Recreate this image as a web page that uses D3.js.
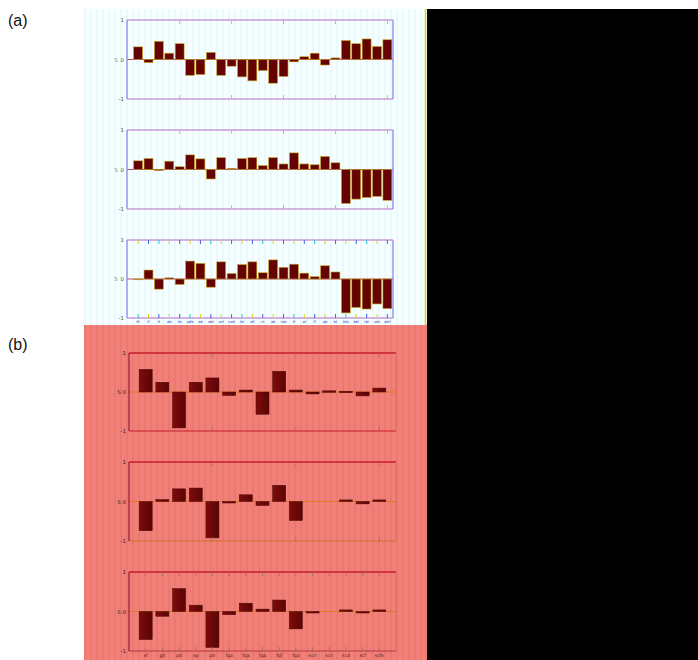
<!DOCTYPE html>
<html><head><meta charset="utf-8">
<script src="https://cdn.jsdelivr.net/npm/d3@7"></script>
<style>body{margin:0;background:#fff}svg{display:block}</style>
</head><body>
<script>
// ---------- data ----------
const catsA = ["fh","fl","fi","ab","tb","adb","ab","abf","acf","cab","fal","afl","ct","ab","tab","ff","af","fl","ab","bl","blb","bbl","tbl","abl","ablf"];
const a1 = [0.32,-0.08,0.46,0.16,0.40,-0.40,-0.38,0.18,-0.40,-0.17,-0.44,-0.54,-0.28,-0.60,-0.43,-0.06,0.07,0.16,-0.14,0.04,0.48,0.40,0.52,0.33,0.50];
const a2 = [0.22,0.28,-0.03,0.21,0.07,0.37,0.27,-0.24,0.30,0.03,0.28,0.30,0.10,0.30,0.14,0.42,0.14,0.12,0.33,0.17,-0.86,-0.75,-0.71,-0.68,-0.78];
const a3 = [-0.02,0.23,-0.26,0.03,-0.14,0.46,0.40,-0.21,0.44,0.14,0.37,0.44,0.16,0.49,0.30,0.38,0.15,0.06,0.34,0.18,-0.87,-0.73,-0.77,-0.64,-0.76];
const catsB = ["sf","gtl","ptl","ep","ptl","fqa","fqa","fqa","fqf","fqd","scrl","scrl","scd","scf","scfe"];
const b1 = [0.58,0.25,-0.92,0.25,0.36,-0.09,0.05,-0.57,0.53,0.05,-0.05,0.03,0.02,-0.10,0.10];
const b2 = [-0.74,0.05,0.32,0.34,-0.92,-0.02,0.17,-0.10,0.41,-0.48,0,0,0.04,-0.06,0.04];
const b3 = [-0.71,-0.12,0.58,0.16,-0.91,-0.08,0.21,0.06,0.29,-0.44,-0.01,0,0.04,-0.02,0.04];
const yTicks = [-1,0,1];
const yTickText = ["-1","0","1"];
const panelLabels = ["(a)","(b)"];

// ---------- svg ----------
const W = 698, H = 660;
const svg = d3.select("body").append("svg").attr("width",W).attr("height",H);
const defs = svg.append("defs");

const patA = defs.append("pattern").attr("id","stripA").attr("patternUnits","userSpaceOnUse").attr("width",6).attr("height",10);
patA.append("rect").attr("width",6).attr("height",10).attr("fill","#f7feff");
patA.append("rect").attr("x",0).attr("width",2).attr("height",10).attr("fill","#e8fafc");
const patB = defs.append("pattern").attr("id","stripB").attr("patternUnits","userSpaceOnUse").attr("width",6).attr("height",10);
patB.append("rect").attr("width",6).attr("height",10).attr("fill","#f08078");
patB.append("rect").attr("x",0).attr("width",2).attr("height",10).attr("fill","#eb7871");
const gradB = defs.append("linearGradient").attr("id","barB").attr("x1",0).attr("x2",1);
gradB.append("stop").attr("offset","0%").attr("stop-color","#7e0c0c");
gradB.append("stop").attr("offset","100%").attr("stop-color","#5a0404");

// backgrounds
svg.append("rect").attr("x",83).attr("y",9).attr("width",343).attr("height",316).attr("fill","url(#stripA)");
svg.append("line").attr("x1",425.5).attr("x2",425.5).attr("y1",9).attr("y2",325).attr("stroke","#e0d000").attr("stroke-width",1.5);
svg.append("rect").attr("x",84).attr("y",325).attr("width",344).attr("height",335).attr("fill","url(#stripB)");
svg.append("rect").attr("x",427).attr("y",9).attr("width",W-427).attr("height",H-9).attr("fill","#000");

svg.selectAll("text.plabel").data(panelLabels).join("text")
  .attr("class","plabel").attr("x",8).attr("y",(d,i)=>i===0?26:350)
  .attr("font-family","Liberation Sans, Arial, sans-serif").attr("font-size",16).attr("fill","#111").text(d=>d);

// ---------- drawing ----------
function drawA(vals, top, bottom, isLast){
  const x = d3.scaleLinear().domain([-0.07,25.54]).range([127,393]);
  const y = d3.scaleLinear().domain([-1,1]).range([bottom,top]);
  const step = x(2)-x(1), bw = step*0.86;
  const g = svg.append("g");
  g.append("line").attr("x1",x.range()[0]).attr("x2",x.range()[1]).attr("y1",y(0)).attr("y2",y(0)).attr("stroke","#b04a78").attr("stroke-width",1);
  g.selectAll("rect.bar").data(vals).join("rect").attr("class","bar")
    .attr("x",(d,i)=>x(i+1)-bw/2).attr("width",bw)
    .attr("y",d=>y(Math.max(0,d))).attr("height",d=>Math.abs(y(d)-y(0)))
    .attr("fill","#650303").attr("stroke","#c9a820").attr("stroke-width",0.6);
  g.append("line").attr("x1",127).attr("x2",393).attr("y1",top).attr("y2",top).attr("stroke","#c79ad8").attr("stroke-width",1.3);
  g.append("line").attr("x1",127).attr("x2",393).attr("y1",bottom).attr("y2",bottom).attr("stroke","#c79ad8").attr("stroke-width",1.3);
  g.append("line").attr("x1",127).attr("x2",127).attr("y1",top).attr("y2",bottom).attr("stroke","#8e86f0").attr("stroke-width",1.3);
  g.append("line").attr("x1",393).attr("x2",393).attr("y1",top).attr("y2",bottom).attr("stroke","#8e86f0").attr("stroke-width",1.3);
  const tickIdx = isLast ? d3.range(1,26) : [5,10,15,20,25];
  const tc = (i)=> ["#e0d020","#5060e0","#30c0c0","#e0d020","#5060e0"][i%5];
  g.selectAll("line.tt").data(tickIdx).join("line").attr("class","tt")
    .attr("x1",d=>x(d)).attr("x2",d=>x(d)).attr("y1",top).attr("y2",top+4).attr("stroke",(d,i)=>isLast?tc(i):"#d8c820").attr("stroke-width",1);
  g.selectAll("line.tb").data(tickIdx).join("line").attr("class","tb")
    .attr("x1",d=>x(d)).attr("x2",d=>x(d)).attr("y1",bottom).attr("y2",bottom-4).attr("stroke",(d,i)=>isLast?tc(i+2):"#d8c820").attr("stroke-width",1);
  g.selectAll("text.yt").data(yTicks).join("text").attr("class","yt")
    .attr("x",124).attr("y",d=>y(d)+2).attr("text-anchor","end")
    .attr("font-family","DejaVu Sans, sans-serif").attr("font-size",5.5).attr("fill","#5a5a30").text((d,i)=>yTickText[i]);
  g.append("text").attr("x",116).attr("y",y(0)+2).attr("text-anchor","middle")
    .attr("font-family","DejaVu Sans, sans-serif").attr("font-size",5.5).attr("fill","#40a0a0").text("S");
  if(isLast){
    g.selectAll("text.xl").data(catsA).join("text").attr("class","xl")
      .attr("x",(d,i)=>x(i+1)).attr("y",bottom+5).attr("text-anchor","middle")
      .attr("font-family","DejaVu Sans, sans-serif").attr("font-size",3.6).attr("fill","#3040c8").text(d=>d);
  }
}

function drawB(vals, top, bottom, idx){
  const isLast = idx===2;
  const x = d3.scaleLinear().domain([0,16]).range([129,396]);
  const y = d3.scaleLinear().domain([-1,1]).range([bottom,top]);
  const step = x(2)-x(1), bw = step*0.78;
  const g = svg.append("g");
  g.append("line").attr("x1",129).attr("x2",396).attr("y1",y(0)).attr("y2",y(0)).attr("stroke","#e07a20").attr("stroke-width",1);
  g.selectAll("rect.bar").data(vals).join("rect").attr("class","bar")
    .attr("x",(d,i)=>x(i+1)-bw/2).attr("width",bw)
    .attr("y",d=>y(Math.max(0,d))).attr("height",d=>Math.max(d===0?0:1.5,Math.abs(y(d)-y(0))))
    .attr("fill","url(#barB)").attr("stroke","#4a0505").attr("stroke-width",0.5);
  g.append("line").attr("x1",129).attr("x2",396).attr("y1",top).attr("y2",top).attr("stroke","#c81c30").attr("stroke-width",1.4);
  g.append("line").attr("x1",129).attr("x2",396).attr("y1",bottom).attr("y2",bottom).attr("stroke",idx===0?"#c81c30":(idx===1?"#d07030":"#b03848")).attr("stroke-width",1.2);
  g.append("line").attr("x1",129).attr("x2",129).attr("y1",top).attr("y2",bottom).attr("stroke","#9a1a3a").attr("stroke-width",1.2);
  g.append("line").attr("x1",396).attr("x2",396).attr("y1",top).attr("y2",bottom).attr("stroke","#d86a50").attr("stroke-width",0.8);
  const tickIdx = isLast ? d3.range(1,16) : [5,10,15];
  g.selectAll("line.tt").data(tickIdx).join("line").attr("class","tt")
    .attr("x1",d=>x(d)).attr("x2",d=>x(d)).attr("y1",top).attr("y2",top+4).attr("stroke","#a07040").attr("stroke-width",0.8);
  g.selectAll("line.tb").data(tickIdx).join("line").attr("class","tb")
    .attr("x1",d=>x(d)).attr("x2",d=>x(d)).attr("y1",bottom).attr("y2",bottom-4).attr("stroke","#a07040").attr("stroke-width",0.8);
  g.selectAll("text.yt").data(yTicks).join("text").attr("class","yt")
    .attr("x",126).attr("y",d=>y(d)+2).attr("text-anchor","end")
    .attr("font-family","DejaVu Sans, sans-serif").attr("font-size",5.5).attr("fill","#4a1818").text((d,i)=>yTickText[i]);
  g.append("text").attr("x",119).attr("y",y(0)+2).attr("text-anchor","middle")
    .attr("font-family","DejaVu Sans, sans-serif").attr("font-size",5.5).attr("fill","#4a1818").text("S");
  if(isLast){
    g.selectAll("text.xl").data(catsB).join("text").attr("class","xl")
      .attr("x",(d,i)=>x(i+1)).attr("y",bottom+6).attr("text-anchor","middle")
      .attr("font-family","DejaVu Sans, sans-serif").attr("font-size",4.5).attr("fill","#4a1818").text(d=>d);
  }
}

drawA(a1, 20, 99, false);
drawA(a2, 130, 209, false);
drawA(a3, 240, 318, true);
drawB(b1, 353, 431, 0);
drawB(b2, 462, 541, 1);
drawB(b3, 572, 651, 2);
</script>
</body></html>
